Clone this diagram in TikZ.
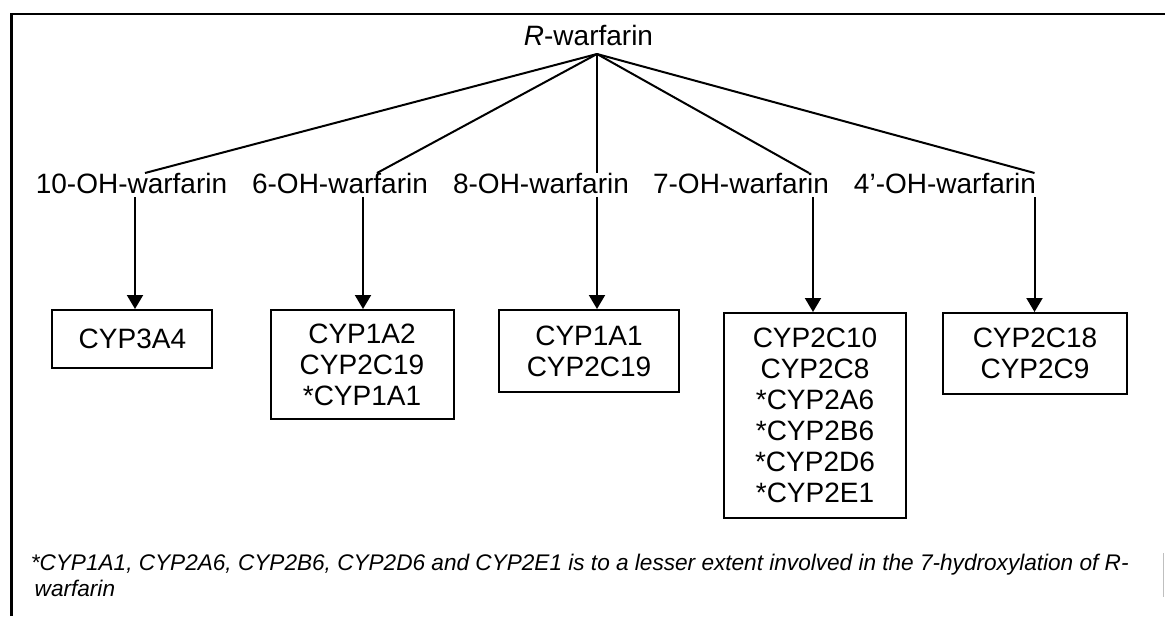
\documentclass[tikz,border=0pt]{standalone}
\usepackage{fontspec}
\setmainfont{Liberation Sans}
\usetikzlibrary{arrows.meta}
\begin{document}
\begin{tikzpicture}[x=1pt,y=-1pt,
  conn/.style={line width=2pt},
  arr/.style={line width=2pt,-{Triangle[width=16pt,length=14pt]}},
  lbl/.style={inner sep=0pt,anchor=base,font=\fontsize{28}{31}\selectfont},
  cyp/.style={draw,line width=2pt,inner sep=0pt,align=center,font=\fontsize{28}{31}\selectfont},
  fn/.style={inner sep=0pt,anchor=base west,font=\fontsize{22.6}{26}\selectfont\itshape},
  frame/.style={line width=2.4pt}]
\useasboundingbox (0,0) rectangle (1165,616);
\fill[white] (0,0) rectangle (1165,616);
\draw[frame] (11.5,616) -- (11.5,14) -- (1165,14);
\draw[gray!50, line width=1pt] (1163,553) -- (1163,597);

\node[lbl] (r) at (588.5,45) {\textit{R}-warfarin};
\coordinate (apex) at (597,54);

\node[lbl] (l10) at (131.5,193) {10-OH-warfarin};
\node[lbl] (l6) at (340,193) {6-OH-warfarin};
\node[lbl] (l8) at (541,193) {8-OH-warfarin};
\node[lbl] (l7) at (741,193) {7-OH-warfarin};
\node[lbl] (l4) at (945,193) {4’-OH-warfarin};

\coordinate (t10) at (145,173);
\coordinate (t6) at (377,173);
\coordinate (t8) at (597,173);
\coordinate (t7) at (809,173);
\coordinate (t4) at (1034.5,173);

\coordinate (s10) at (135,197);
\coordinate (s6) at (363,197);
\coordinate (s8) at (597,197);
\coordinate (s7) at (813,197);
\coordinate (s4) at (1034.5,197);

\node[cyp, minimum width=160pt, minimum height=58pt] (b10) at (132.4,339) {CYP3A4};
\node[cyp, minimum width=183pt, minimum height=109pt] (b6) at (362,364.5) {CYP1A2\\CYP2C19\\*CYP1A1};
\node[cyp, minimum width=180pt, minimum height=82pt] (b8) at (589,351) {CYP1A1\\CYP2C19};
\node[cyp, minimum width=182pt, minimum height=205pt] (b7) at (815,415.5) {CYP2C10\\CYP2C8\\*CYP2A6\\*CYP2B6\\*CYP2D6\\*CYP2E1};
\node[cyp, minimum width=184pt, minimum height=81pt] (b4) at (1035,353.5) {CYP2C18\\CYP2C9};

\draw[conn] (apex) -- (t10);
\draw[conn] (apex) -- (t6);
\draw[conn] (apex) -- (t8);
\draw[conn] (apex) -- (t7);
\draw[conn] (apex) -- (t4);

\draw[arr] (s10) -- (s10 |- b10.north);
\draw[arr] (s6) -- (s6 |- b6.north);
\draw[arr] (s8) -- (s8 |- b8.north);
\draw[arr] (s7) -- (s7 |- b7.north);
\draw[arr] (s4) -- (s4 |- b4.north);

\node[fn] (fn1) at (30.6,570) {*CYP1A1, CYP2A6, CYP2B6, CYP2D6 and CYP2E1 is to a lesser extent involved in the 7-hydroxylation of R-};
\node[fn] (fn2) at (34.5,596) {warfarin};
\end{tikzpicture}
\end{document}
